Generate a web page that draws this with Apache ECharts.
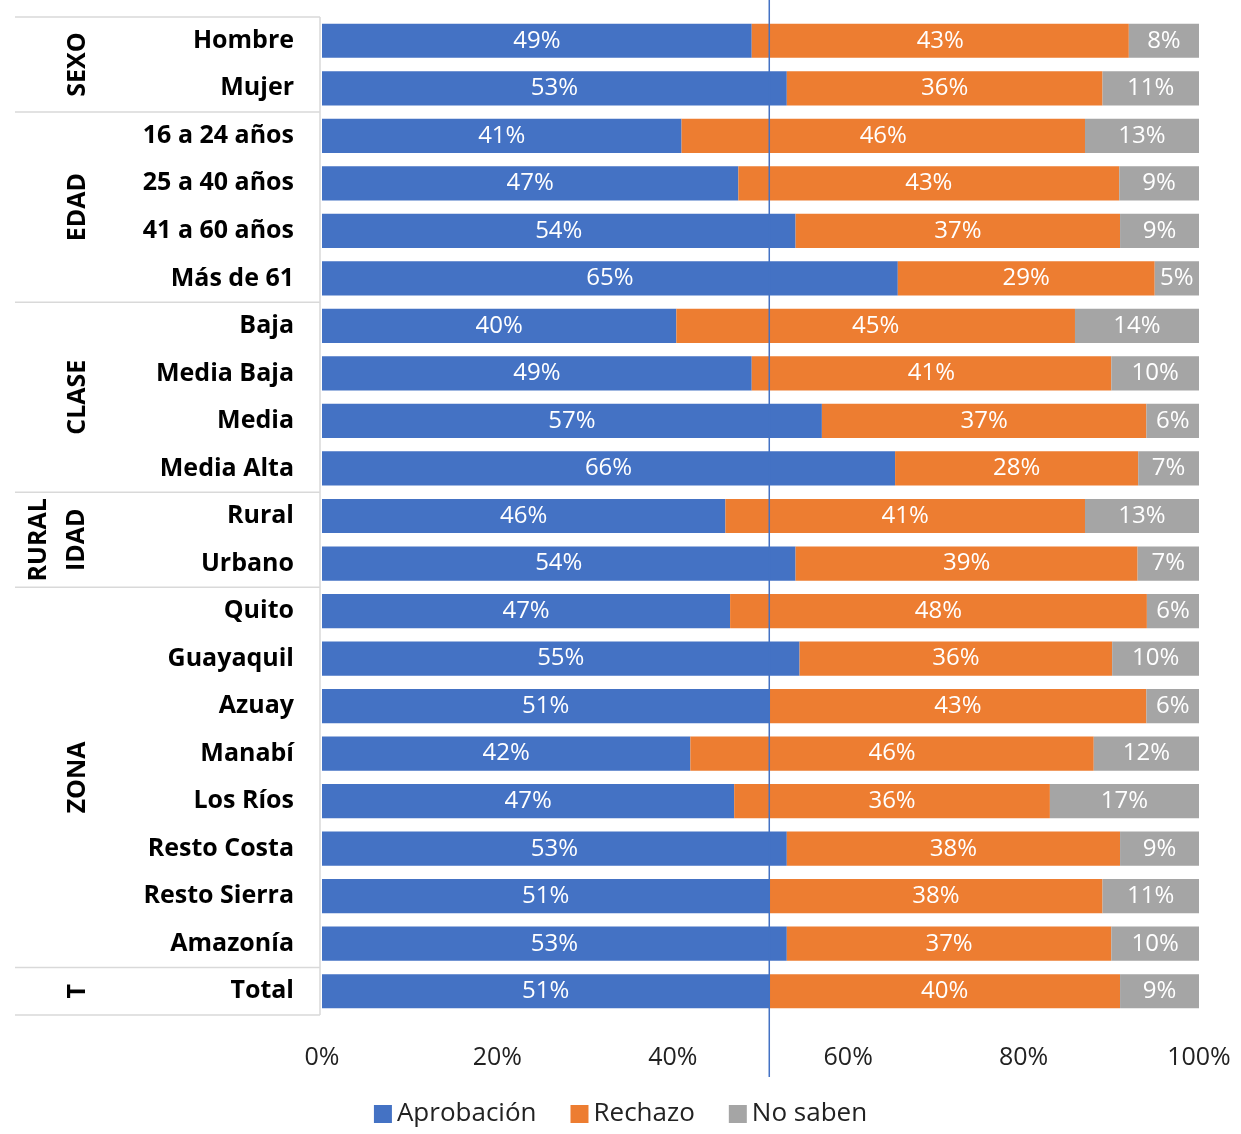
<!DOCTYPE html>
<html><head><meta charset="utf-8">
<script src="https://cdn.jsdelivr.net/npm/echarts@6/dist/echarts.min.js"></script>
<style>html,body{margin:0;padding:0;background:#fff}#c{width:1241px;height:1134px}</style>
</head><body><div id="c"></div>
<script>
const categories = ['Hombre','Mujer','16 a 24 años','25 a 40 años','41 a 60 años','Más de 61','Baja','Media Baja','Media','Media Alta','Rural','Urbano','Quito','Guayaquil','Azuay','Manabí','Los Ríos','Resto Costa','Resto Sierra','Amazonía','Total'];
const aprobacion = [49,53,41,47,54,65,40,49,57,66,46,54,47,55,51,42,47,53,51,53,51];
const rechazo =    [43,36,46,43,37,29,45,41,37,28,41,39,48,36,43,46,36,38,38,37,40];
const noSaben =    [8,11,13,9,9,5,14,10,6,7,13,7,6,10,6,12,17,9,11,10,9];
const groups = [['SEXO',0,2],['EDAD',2,6],['CLASE',6,10],['RURAL\nIDAD',10,12],['ZONA',12,20],['T',20,21]];
const xTicks = ['0%','20%','40%','60%','80%','100%'];

const FONT = 'Open Sans';
const gTop = 17, gH = 998, rowH = gH / categories.length;
const totals = categories.map((_, i) => aprobacion[i] + rechazo[i] + noSaben[i]);
const norm = arr => arr.map((v, i) => ({ value: v * 100 / totals[i], raw: v }));
const mk = (name, arr, color) => ({
  name, type: 'bar', stack: 's', data: norm(arr), barCategoryGap: '28%',
  itemStyle: { color },
  label: { show: true, position: 'inside', color: '#fff', fontSize: 24, fontFamily: FONT,
    formatter: p => p.data.raw + '%' }
});
const graphics = [];
graphics.push({ type: 'line', shape: { x1: 320, y1: gTop, x2: 320, y2: gTop + gH }, style: { stroke: '#d9d9d9', lineWidth: 1.5 } });
graphics.push({ type: 'line', shape: { x1: 15, y1: gTop, x2: 320, y2: gTop }, style: { stroke: '#d9d9d9', lineWidth: 1.5 } });
groups.forEach(([name, a, b]) => {
  const yb = gTop + b * rowH;
  graphics.push({ type: 'line', shape: { x1: 15, y1: yb, x2: 320, y2: yb }, style: { stroke: '#d9d9d9', lineWidth: 1.5 } });
  const yc = gTop + (a + b) / 2 * rowH;
  graphics.push({ type: 'text', x: name.includes('\n') ? 58 : 78, y: yc, rotation: Math.PI / 2,
    style: { text: name, font: 'bold 25px "' + FONT + '"', fill: '#000', align: 'center', verticalAlign: 'middle', lineHeight: 38 } });
});
const chart = echarts.init(document.getElementById('c'));
chart.setOption({
  animation: false,
  grid: { left: 322, right: 42, top: gTop, height: gH },
  legend: { bottom: 2, itemWidth: 18, itemHeight: 18, itemGap: 34, icon: 'rect',
    textStyle: { fontSize: 26, fontFamily: FONT, color: '#222' } },
  xAxis: { type: 'value', min: 0, max: 100, interval: 20,
    axisLabel: { fontSize: 25, fontFamily: FONT, color: '#222', margin: 30,
      formatter: v => xTicks[v / 20] },
    splitLine: { show: false }, axisLine: { show: false } },
  yAxis: { type: 'category', data: categories, inverse: true,
    axisLine: { show: false }, axisTick: { show: false },
    axisLabel: { fontSize: 25, fontWeight: 'bold', fontFamily: FONT, color: '#000', margin: 28 } },
  series: [
    mk('Aprobación', aprobacion, '#4472c4'),
    mk('Rechazo', rechazo, '#ed7d31'),
    mk('No saben', noSaben, '#a5a5a5')
  ],
  graphic: graphics
});
const lx = chart.convertToPixel({ xAxisIndex: 0 }, aprobacion[20]);
graphics.push({ type: 'line', z: 100, shape: { x1: lx, y1: 0, x2: lx, y2: 1077 }, style: { stroke: '#4472c4', lineWidth: 1.5 } });
chart.setOption({ graphic: graphics });
</script></body></html>
